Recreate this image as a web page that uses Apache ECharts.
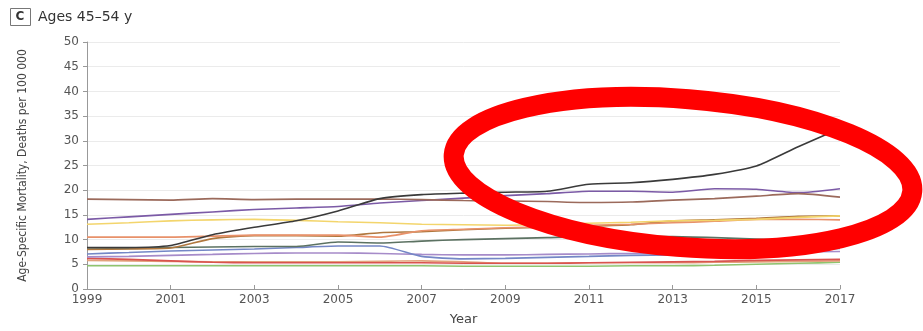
<!DOCTYPE html>
<html>
<head>
<meta charset="utf-8">
<script src="https://cdn.jsdelivr.net/npm/echarts@6/dist/echarts.min.js"></script>
<style>
  html, body { margin: 0; padding: 0; background: #fff; }
  #main { width: 923px; height: 331px; }
</style>
</head>
<body>
<div id="main"></div>
<script>
// years on the x axis
const years = ['1999', '2000', '2001', '2002', '2003', '2004', '2005', '2006', '2007', '2008',
  '2009', '2010', '2011', '2012', '2013', '2014', '2015', '2016', '2017']

// mortality per 100 000
const blackLine = [8.4, 8.4, 8.8, 11.0, 12.5, 13.8, 15.8, 18.3, 19.1, 19.4, 19.6, 19.8, 21.2, 21.5, 22.2, 23.2, 24.9, 28.8, 32.5]
const brownTop = [18.2, 18.1, 18.0, 18.3, 18.1, 18.2, 18.2, 18.2, 18.1, 17.9, 17.8, 17.7, 17.5, 17.6, 18.0, 18.3, 18.8, 19.3, 18.6]
const purpleTop = [14.1, 14.6, 15.1, 15.6, 16.1, 16.4, 16.7, 17.4, 17.9, 18.4, 18.9, 19.3, 19.8, 19.8, 19.6, 20.3, 20.2, 19.5, 20.3]
const yellow = [13.1, 13.4, 13.8, 14.0, 14.1, 13.9, 13.6, 13.4, 13.1, 13.0, 12.9, 13.1, 13.3, 13.5, 13.8, 13.9, 14.1, 14.5, 14.8]
const orange = [10.5, 10.5, 10.5, 10.7, 10.9, 10.9, 10.9, 10.5, 11.8, 12.1, 12.4, 12.6, 12.9, 13.1, 13.4, 13.7, 14.1, 14.1, 14.0]
const brownMid = [8.0, 8.1, 8.3, 10.2, 10.8, 10.8, 10.7, 11.4, 11.6, 12.0, 12.3, 12.5, 12.7, 13.0, 13.8, 14.0, 14.3, 14.7, 14.8]
const darkGreen = [8.1, 8.2, 8.4, 8.5, 8.6, 8.6, 9.5, 9.3, 9.7, 10.0, 10.2, 10.4, 10.6, 10.6, 10.6, 10.4, 10.1, 9.8, 9.5]
const blue = [7.1, 7.4, 7.7, 7.9, 8.1, 8.4, 8.7, 8.7, 6.6, 6.1, 6.2, 6.4, 6.6, 6.8, 6.9, 7.1, 7.4, 7.8, 8.2]
const lavender = [6.5, 6.6, 6.8, 7.0, 7.2, 7.3, 7.3, 7.2, 7.0, 6.9, 6.9, 7.0, 7.1, 7.2, 7.2, 7.3, 7.4, 7.5, 7.6]
const red = [6.2, 6.0, 5.7, 5.4, 5.3, 5.3, 5.3, 5.3, 5.3, 5.2, 5.2, 5.2, 5.3, 5.4, 5.5, 5.6, 5.8, 5.9, 6.0]
const salmon = [5.8, 5.7, 5.6, 5.5, 5.5, 5.5, 5.5, 5.6, 5.7, 5.5, 5.2, 5.2, 5.3, 5.3, 5.3, 5.4, 5.5, 5.6, 5.7]
const green = [4.7, 4.7, 4.7, 4.7, 4.7, 4.7, 4.7, 4.7, 4.7, 4.6, 4.6, 4.6, 4.6, 4.7, 4.7, 4.8, 5.0, 5.2, 5.4]

const yTicks = [0, 5, 10, 15, 20, 25, 30, 35, 40, 45, 50]

const lines = [
  { name: 'green', data: green, color: '#8fc46e' },
  { name: 'salmon', data: salmon, color: '#e3a27c' },
  { name: 'red', data: red, color: '#d9534f' },
  { name: 'lavender', data: lavender, color: '#a68bc9' },
  { name: 'blue', data: blue, color: '#7487c6' },
  { name: 'darkGreen', data: darkGreen, color: '#5c7262' },
  { name: 'brownMid', data: brownMid, color: '#b0773e' },
  { name: 'orange', data: orange, color: '#e8916a' },
  { name: 'yellow', data: yellow, color: '#f3d56c' },
  { name: 'purpleTop', data: purpleTop, color: '#7b5aa6' },
  { name: 'brownTop', data: brownTop, color: '#9b6a5b' },
  { name: 'black', data: blackLine, color: '#3a3a3a' }
]

const chart = echarts.init(document.getElementById('main'))

chart.setOption({
  animation: false,
  grid: { left: 87, right: 83, top: 42, bottom: 41 },
  graphic: [
    {
      type: 'rect',
      shape: { x: 10.5, y: 8.5, width: 20, height: 17 },
      style: { fill: '#fff', stroke: '#777', lineWidth: 1 }
    },
    {
      type: 'text',
      x: 20, y: 17,
      style: { text: 'C', fill: '#333', font: 'bold 12px "DejaVu Sans"', align: 'center', verticalAlign: 'middle' }
    },
    {
      type: 'text',
      x: 38, y: 17,
      style: { text: 'Ages 45–54 y', fill: '#333', font: '14px "DejaVu Sans"', verticalAlign: 'middle' }
    },
    {
      // red annotation ring drawn over the chart
      type: 'ellipse',
      z: 100,
      x: 683, y: 173,
      rotation: -0.08,
      shape: { cx: 0, cy: 0, rx: 230, ry: 74 },
      style: { fill: 'none', stroke: '#ff0000', lineWidth: 20 }
    }
  ],
  xAxis: {
    type: 'category',
    data: years,
    boundaryGap: false,
    name: 'Year',
    nameLocation: 'middle',
    nameGap: 24,
    nameTextStyle: { fontFamily: 'DejaVu Sans', fontSize: 13, color: '#444' },
    axisLine: { lineStyle: { color: '#999' } },
    axisTick: { interval: 1, inside: true, length: 4, lineStyle: { color: '#999' } },
    axisLabel: {
      interval: 1,
      margin: 5,
      fontFamily: 'DejaVu Sans',
      fontSize: 12,
      color: '#555'
    },
    splitLine: { show: false }
  },
  yAxis: {
    type: 'value',
    min: yTicks[0],
    max: yTicks[yTicks.length - 1],
    interval: 5,
    name: 'Age-Specific Mortality, Deaths per 100 000',
    nameLocation: 'middle',
    nameGap: 58,
    nameTextStyle: { fontFamily: '"DejaVu Sans Condensed", "Liberation Sans Narrow", "DejaVu Sans"', fontSize: 12, color: '#444' },
    axisLine: { show: true, lineStyle: { color: '#999' } },
    axisTick: { show: true, length: 4, lineStyle: { color: '#999' } },
    axisLabel: {
      margin: 8,
      fontFamily: 'DejaVu Sans',
      fontSize: 12,
      color: '#555'
    },
    splitLine: { lineStyle: { color: '#ebebeb' } }
  },
  series: lines.map(l => ({
    name: l.name,
    type: 'line',
    data: l.data,
    smooth: 0.2,
    showSymbol: false,
    lineStyle: { width: 1.6, color: l.color },
    itemStyle: { color: l.color }
  }))
})
</script>
</body>
</html>
